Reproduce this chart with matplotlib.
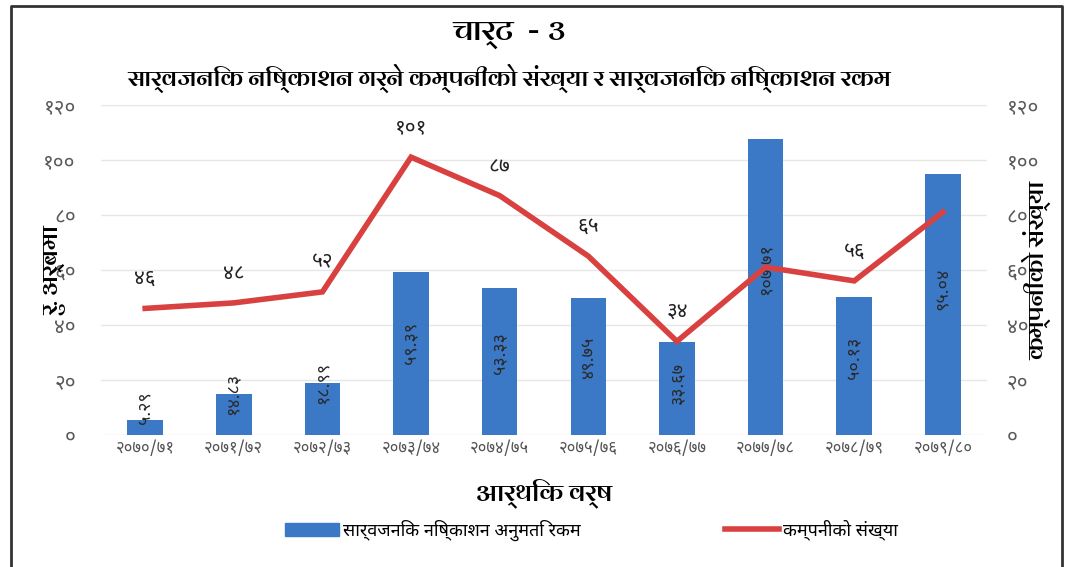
import matplotlib
matplotlib.use('Agg')
import matplotlib.pyplot as plt
from matplotlib import font_manager
from matplotlib.lines import Line2D
from matplotlib.patches import Patch

# pick installed Devanagari fonts (body + a bold one for headings)
names = {f.name for f in font_manager.fontManager.ttflist}
def first(cands):
    for n in cands:
        if n in names:
            return n
    return None
body = first(['Noto Sans Devanagari', 'Hind', 'Mukta', 'Poppins', 'Annapurna SIL'])
head = first(['Arya', 'Biryani', 'Amiko', 'Ek Mukta']) or body
plt.rcParams['font.family'] = ([body] if body else []) + ['DejaVu Sans']
head_fam = ([head] if head else []) + ['DejaVu Sans']

# data
years = ['२०७०/७१', '२०७१/७२', '२०७२/७३', '२०७३/७४', '२०७४/७५',
         '२०७५/७६', '२०७६/७७', '२०७७/७८', '२०७८/७९', '२०७९/८०']
amount = [5.29, 14.83, 18.99, 59.39, 53.33, 49.75, 33.67, 107.71, 50.13, 95.04]
companies = [46, 48, 52, 101, 87, 65, 34, 61, 56, 81]
yticks = [0, 20, 40, 60, 80, 100, 120]

digits = str.maketrans('0123456789', '०१२३४५६७८९')
def nep(s):
    return str(s).translate(digits)

blue = '#3b78c6'
red = '#d8413f'

fig = plt.figure(figsize=(10.73, 5.67), dpi=100)
ax = fig.add_axes([0.094, 0.233, 0.826, 0.582])
ax2 = ax.twinx()

x = list(range(len(years)))
ax.bar(x, amount, width=0.4, color=blue, zorder=2)
for xi, v in zip(x, amount):
    ypos = max(v, 10) if v < 25 else v * 0.56
    ax.text(xi, ypos, nep(f'{v:.2f}'), rotation=90, ha='center', va='center',
            fontsize=13, color='#2a2a2a', zorder=3)
for xi, v in zip(x, companies):
    ax.text(xi, v + 7, nep(v), ha='center', va='bottom', fontsize=15,
            color='#222222', zorder=1)

ax2.plot(x, companies, color=red, lw=4, solid_joinstyle='miter', zorder=4)

for a in (ax, ax2):
    a.set_ylim(0, 120)
    a.set_yticks(yticks)
    a.set_yticklabels([nep(t) for t in yticks], fontsize=15, color='#5a5a5a')
    a.tick_params(length=0)
    for s in a.spines.values():
        s.set_visible(False)
ax.set_xlim(-0.5, len(years) - 0.5)
ax.set_xticks(x)
ax.set_xticklabels(years, fontsize=12, color='#555555')
ax.tick_params(axis='y', pad=18)
ax.tick_params(axis='x', pad=4)
ax2.tick_params(axis='y', pad=14)
ax.grid(axis='y', color='#e6e6e6', lw=1, zorder=0)
ax.set_axisbelow(True)

ax.set_ylabel('रु. अर्बमा', fontsize=17, fontweight='bold', family=head_fam, labelpad=-16)
ax2.set_ylabel('कम्पनीको संख्या', fontsize=17, fontweight='bold', family=head_fam, labelpad=-12)
ax.set_xlabel('आर्थिक वर्ष', fontsize=18, fontweight='bold', family=head_fam, labelpad=16)

fig.text(0.475, 0.937, 'चार्ट  - ३', ha='center', va='center', fontsize=22,
         fontweight='bold', family=head_fam)
fig.text(0.475, 0.862, 'सार्वजनिक निष्काशन गर्ने कम्पनीको संख्या र सार्वजनिक निष्काशन रकम',
         ha='center', va='center', fontsize=17, fontweight='bold', family=head_fam)

handles = [Patch(color=blue), Line2D([0], [0], color=red, lw=4)]
fig.legend(handles, ['सार्वजनिक निष्काशन अनुमति रकम', 'कम्पनीको संख्या'],
           loc='center', bbox_to_anchor=(0.551, 0.065), ncol=2, frameon=False,
           fontsize=13, handlelength=3, handletextpad=0.2, columnspacing=8)

# frame around the chart
fig.add_artist(Line2D([0.01, 0.01, 0.99, 0.99], [0.0, 0.99, 0.99, 0.0],
                      transform=fig.transFigure, color='#333333', lw=2))

fig.savefig('out.png', dpi=100)
